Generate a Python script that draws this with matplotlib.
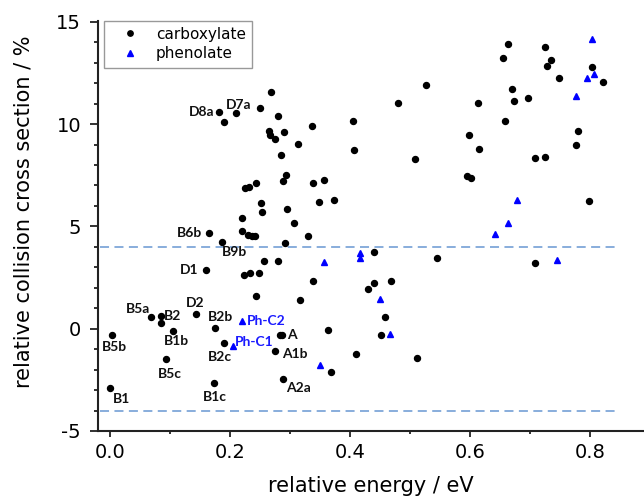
import matplotlib
matplotlib.use("Agg")
import matplotlib.pyplot as plt
from matplotlib.ticker import MultipleLocator

# carboxylate conformers: energy (eV), relative CCS (%)
carb_x = [0.268, 0.182, 0.190, 0.2095, 0.250, 0.2795, 0.2655, 0.267, 0.2755, 0.2905,
          0.2855, 0.293, 0.289, 0.2255, 0.232, 0.243, 0.252, 0.2533, 0.2955, 0.2195,
          0.3367, 0.3128, 0.3388, 0.356, 0.349, 0.3728, 0.4045, 0.406, 0.4805, 0.527,
          0.508, 0.6128, 0.598, 0.615, 0.5955, 0.602, 0.6628, 0.6555, 0.725, 0.7355,
          0.7288, 0.7488, 0.8033, 0.8217, 0.6695, 0.6738, 0.6967, 0.6583, 0.7795, 0.7767,
          0.7088, 0.7255, 0.7983, 0.1645, 0.220, 0.2305, 0.2362, 0.2417, 0.1872, 0.2917,
          0.160, 0.2567, 0.2795, 0.2233, 0.2333, 0.2483, 0.2433, 0.0683, 0.085, 0.085,
          0.1433, 0.1745, 0.0033, 0.1045, 0.190, 0.2833, 0.275, 0.0938, 0.1733, 0.2878,
          0.000, 0.3067, 0.3305, 0.4405, 0.5445, 0.3388, 0.3167, 0.4305, 0.4395, 0.4678,
          0.4588, 0.3628, 0.4522, 0.4105, 0.5117, 0.3683, 0.7088, 0.2867]
carb_y = [11.59, 10.58, 10.12, 10.53, 10.78, 10.40, 9.66, 9.47, 9.29, 9.63,
          8.47, 7.50, 7.23, 6.89, 6.94, 7.13, 6.15, 5.71, 5.86, 5.40,
          9.89, 9.01, 7.13, 7.28, 6.17, 6.29, 10.16, 8.74, 11.04, 11.92,
          8.31, 11.02, 9.46, 8.80, 7.45, 7.38, 13.90, 13.25, 13.77, 13.15,
          12.85, 12.23, 12.77, 12.07, 11.69, 11.15, 11.27, 10.14, 9.65, 9.00,
          8.36, 8.38, 6.24, 4.66, 4.77, 4.57, 4.54, 4.54, 4.25, 4.17,
          2.89, 3.33, 3.31, 2.63, 2.71, 2.73, 1.58, 0.56, 0.60, 0.28,
          0.70, 0.03, -0.29, -0.12, -0.70, -0.31, -1.08, -1.49, -2.63, -2.48,
          -2.91, 5.14, 4.51, 3.73, 3.46, 2.33, 1.40, 1.93, 2.21, 2.33,
          0.56, -0.05, -0.33, -1.26, -1.44, -2.12, 3.22, -0.31]

# phenolate conformers
phen_x = [0.2205, 0.2045, 0.3572, 0.416, 0.416, 0.450, 0.4662, 0.3505,
          0.6788, 0.6638, 0.6422, 0.745, 0.8038, 0.795, 0.8072, 0.7767]
phen_y = [0.37, -0.85, 3.25, 3.68, 3.45, 1.47, -0.26, -1.76,
          6.31, 5.14, 4.62, 3.35, 14.14, 12.23, 12.43, 11.37]

# labelled conformers: name, index into carboxylate arrays, text offset (pixels)
carb_labels = [("D8a", 1, (-18, 0)), ("D7a", 3, (3, 8)), ("B6b", 53, (-19, 0)),
               ("B9b", 58, (12, -10)), ("D1", 60, (-17, 0)), ("B5a", 67, (-13, 8)),
               ("B2", 68, (12, 0)), ("D2", 70, (-1, 11)), ("B2b", 71, (6, 11)),
               ("B5b", 72, (2, -12)), ("B1b", 73, (4, -10)), ("B2c", 74, (-4, -14)),
               ("A", 75, (12, 0)), ("A1b", 76, (20, -3)), ("B5c", 77, (4, -14.5)),
               ("B1c", 78, (1, -14.5)), ("A2a", 79, (16, -9)), ("B1", 80, (12, -10.5))]
phen_labels = [("Ph-C2", 0, (24, 0)), ("Ph-C1", 1, (21, 4))]

ccs_limits = [-4, 4]

fig = plt.figure(figsize=(6.44, 5.01), dpi=100)
ax = fig.add_axes([97.7 / 644, 1 - 431 / 501, 1 - 97.7 / 644, (431 - 20.7) / 501])

ax.plot(carb_x, carb_y, linestyle="none", marker="o", markersize=4.3,
        color="black", label="carboxylate")
ax.plot(phen_x, phen_y, linestyle="none", marker="^", markersize=5.0,
        color="#0000ff", label="phenolate")

for lim in ccs_limits:
    ax.plot([-0.017, 0.843], [lim, lim], linestyle=(0, (5, 3)), color="#7fa7d9",
            linewidth=1.3, zorder=0)

lab_font = dict(family=["Lato", "DejaVu Sans"], fontweight="bold", fontsize=10)
for name, i, off in carb_labels:
    ax.annotate(name, (carb_x[i], carb_y[i]), xytext=off, textcoords="offset pixels",
                ha="center", va="center", color="#111111", **lab_font)
for name, i, off in phen_labels:
    ax.annotate(name, (phen_x[i], phen_y[i]), xytext=off, textcoords="offset pixels",
                ha="center", va="center", color="#1a1aff", **lab_font)

ax.set_xlim(-0.0205, 0.89)
ax.set_ylim(-5, 15.05)
ax.xaxis.set_major_locator(MultipleLocator(0.2))
ax.xaxis.set_minor_locator(MultipleLocator(0.1))
ax.yaxis.set_major_locator(MultipleLocator(5))
ax.yaxis.set_minor_locator(MultipleLocator(1))
ax.xaxis.set_major_formatter(matplotlib.ticker.FormatStrFormatter("%.1f"))
ax.yaxis.set_major_formatter(matplotlib.ticker.FuncFormatter(lambda v, p: f"{v:.0f}"))

for s in ["top", "right"]:
    ax.spines[s].set_visible(False)
for s in ["left", "bottom"]:
    ax.spines[s].set_linewidth(1.5)
    ax.spines[s].set_color("#222222")

ax.tick_params(axis="both", which="major", direction="out", width=1.3, labelsize=14,
               color="#222222")
ax.tick_params(axis="x", which="major", length=4, pad=5)
ax.tick_params(axis="x", which="minor", length=2.5, width=1.3, color="#222222")
ax.tick_params(axis="y", which="major", length=6, pad=6)
ax.tick_params(axis="y", which="minor", length=3, width=1.3, color="#222222")

ax.set_xlabel("relative energy / eV", fontsize=15, labelpad=10)
ax.set_ylabel("relative collision cross section / %", fontsize=15)
ax.yaxis.set_label_coords(-0.118, 0.534)

leg = ax.legend(loc="upper left", bbox_to_anchor=(0.011, 1.0), fontsize=11,
                frameon=True, fancybox=False, edgecolor="#808080", markerscale=0.9,
                handlelength=2.7, handletextpad=0.3, borderpad=0.4, labelspacing=0.3,
                borderaxespad=0.0)
leg.get_frame().set_linewidth(1.0)

fig.savefig("out.png", dpi=100)
